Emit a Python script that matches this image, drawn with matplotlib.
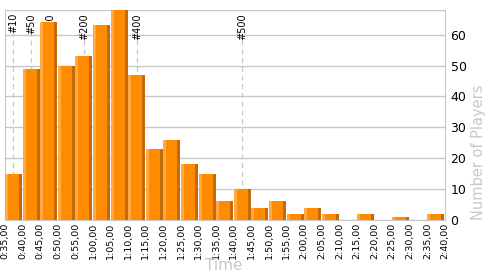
import numpy as np
import matplotlib
matplotlib.use('Agg')
import matplotlib.pyplot as plt

# bins of 5 minutes, start times in minutes
bin_starts = list(range(35, 160, 5))
counts = [15, 49, 64, 50, 53, 63, 68, 47, 23, 26, 18, 15, 6, 10,
          4, 6, 2, 4, 2, 0, 2, 0, 1, 0, 2]
tick_mins = list(range(35, 165, 5))
tick_labels = ['{}:{:02d},00'.format(m // 60, m % 60) for m in tick_mins]

# rank markers (position in minutes)
marker_names = ['#10', '#50', '#100', '#200', '#400', '#500']
marker_mins = [37.3, 42.4, 47.8, 57.4, 72.5, 102.3]

fig = plt.figure(figsize=(5, 2.75), dpi=100)
ax = fig.add_axes([0.01, 0.2, 0.88, 0.7636])

grey = '#c8c8c8'
ymax = 68

# marker lines and labels (behind bars)
for name, m in zip(marker_names, marker_mins):
    ax.plot([m, m], [0, 60.5], ls=(0, (4, 3)), color=grey, lw=0.9, zorder=1)
    ax.text(m, 67, name, rotation=90, ha='center', va='top', fontsize=7,
            color='black', zorder=1)

w = 4.83
strip = 0.85
ax.bar(bin_starts, counts, width=w, align='edge', color='#ff8c00', zorder=3)
ax.bar(bin_starts, counts, width=strip, align='edge', color='#ffa940', zorder=4)
ax.bar(np.array(bin_starts) + w - strip, counts, width=strip, align='edge',
       color='#c46a08', zorder=4)

ax.set_xlim(35, 160)
ax.set_ylim(0, ymax)
ax.set_yticks(range(0, 70, 10))
ax.yaxis.tick_right()
ax.grid(axis='y', color=grey, lw=1, zorder=0)
ax.set_axisbelow(True)
ax.tick_params(axis='y', length=0, labelsize=9, pad=4)
ax.set_xticks(tick_mins)
ax.set_xticklabels(tick_labels, rotation=90, fontsize=6.8)
ax.tick_params(axis='x', length=0, pad=2)

for s in ['left', 'right', 'bottom', 'top']:
    ax.spines[s].set_color(grey)
ax.spines['top'].set_visible(False)
ax.axhline(ymax, color=grey, lw=1, zorder=0)

# axis titles placed like the original
fig.text(0.958, 0.2, 'Number of Players', rotation=90, color=grey,
         fontsize=10.5, ha='center', va='bottom')
fig.text(0.448, 0.036, 'Time', color=grey, fontsize=11, ha='center', va='center')

plt.savefig('out.png', dpi=100)
